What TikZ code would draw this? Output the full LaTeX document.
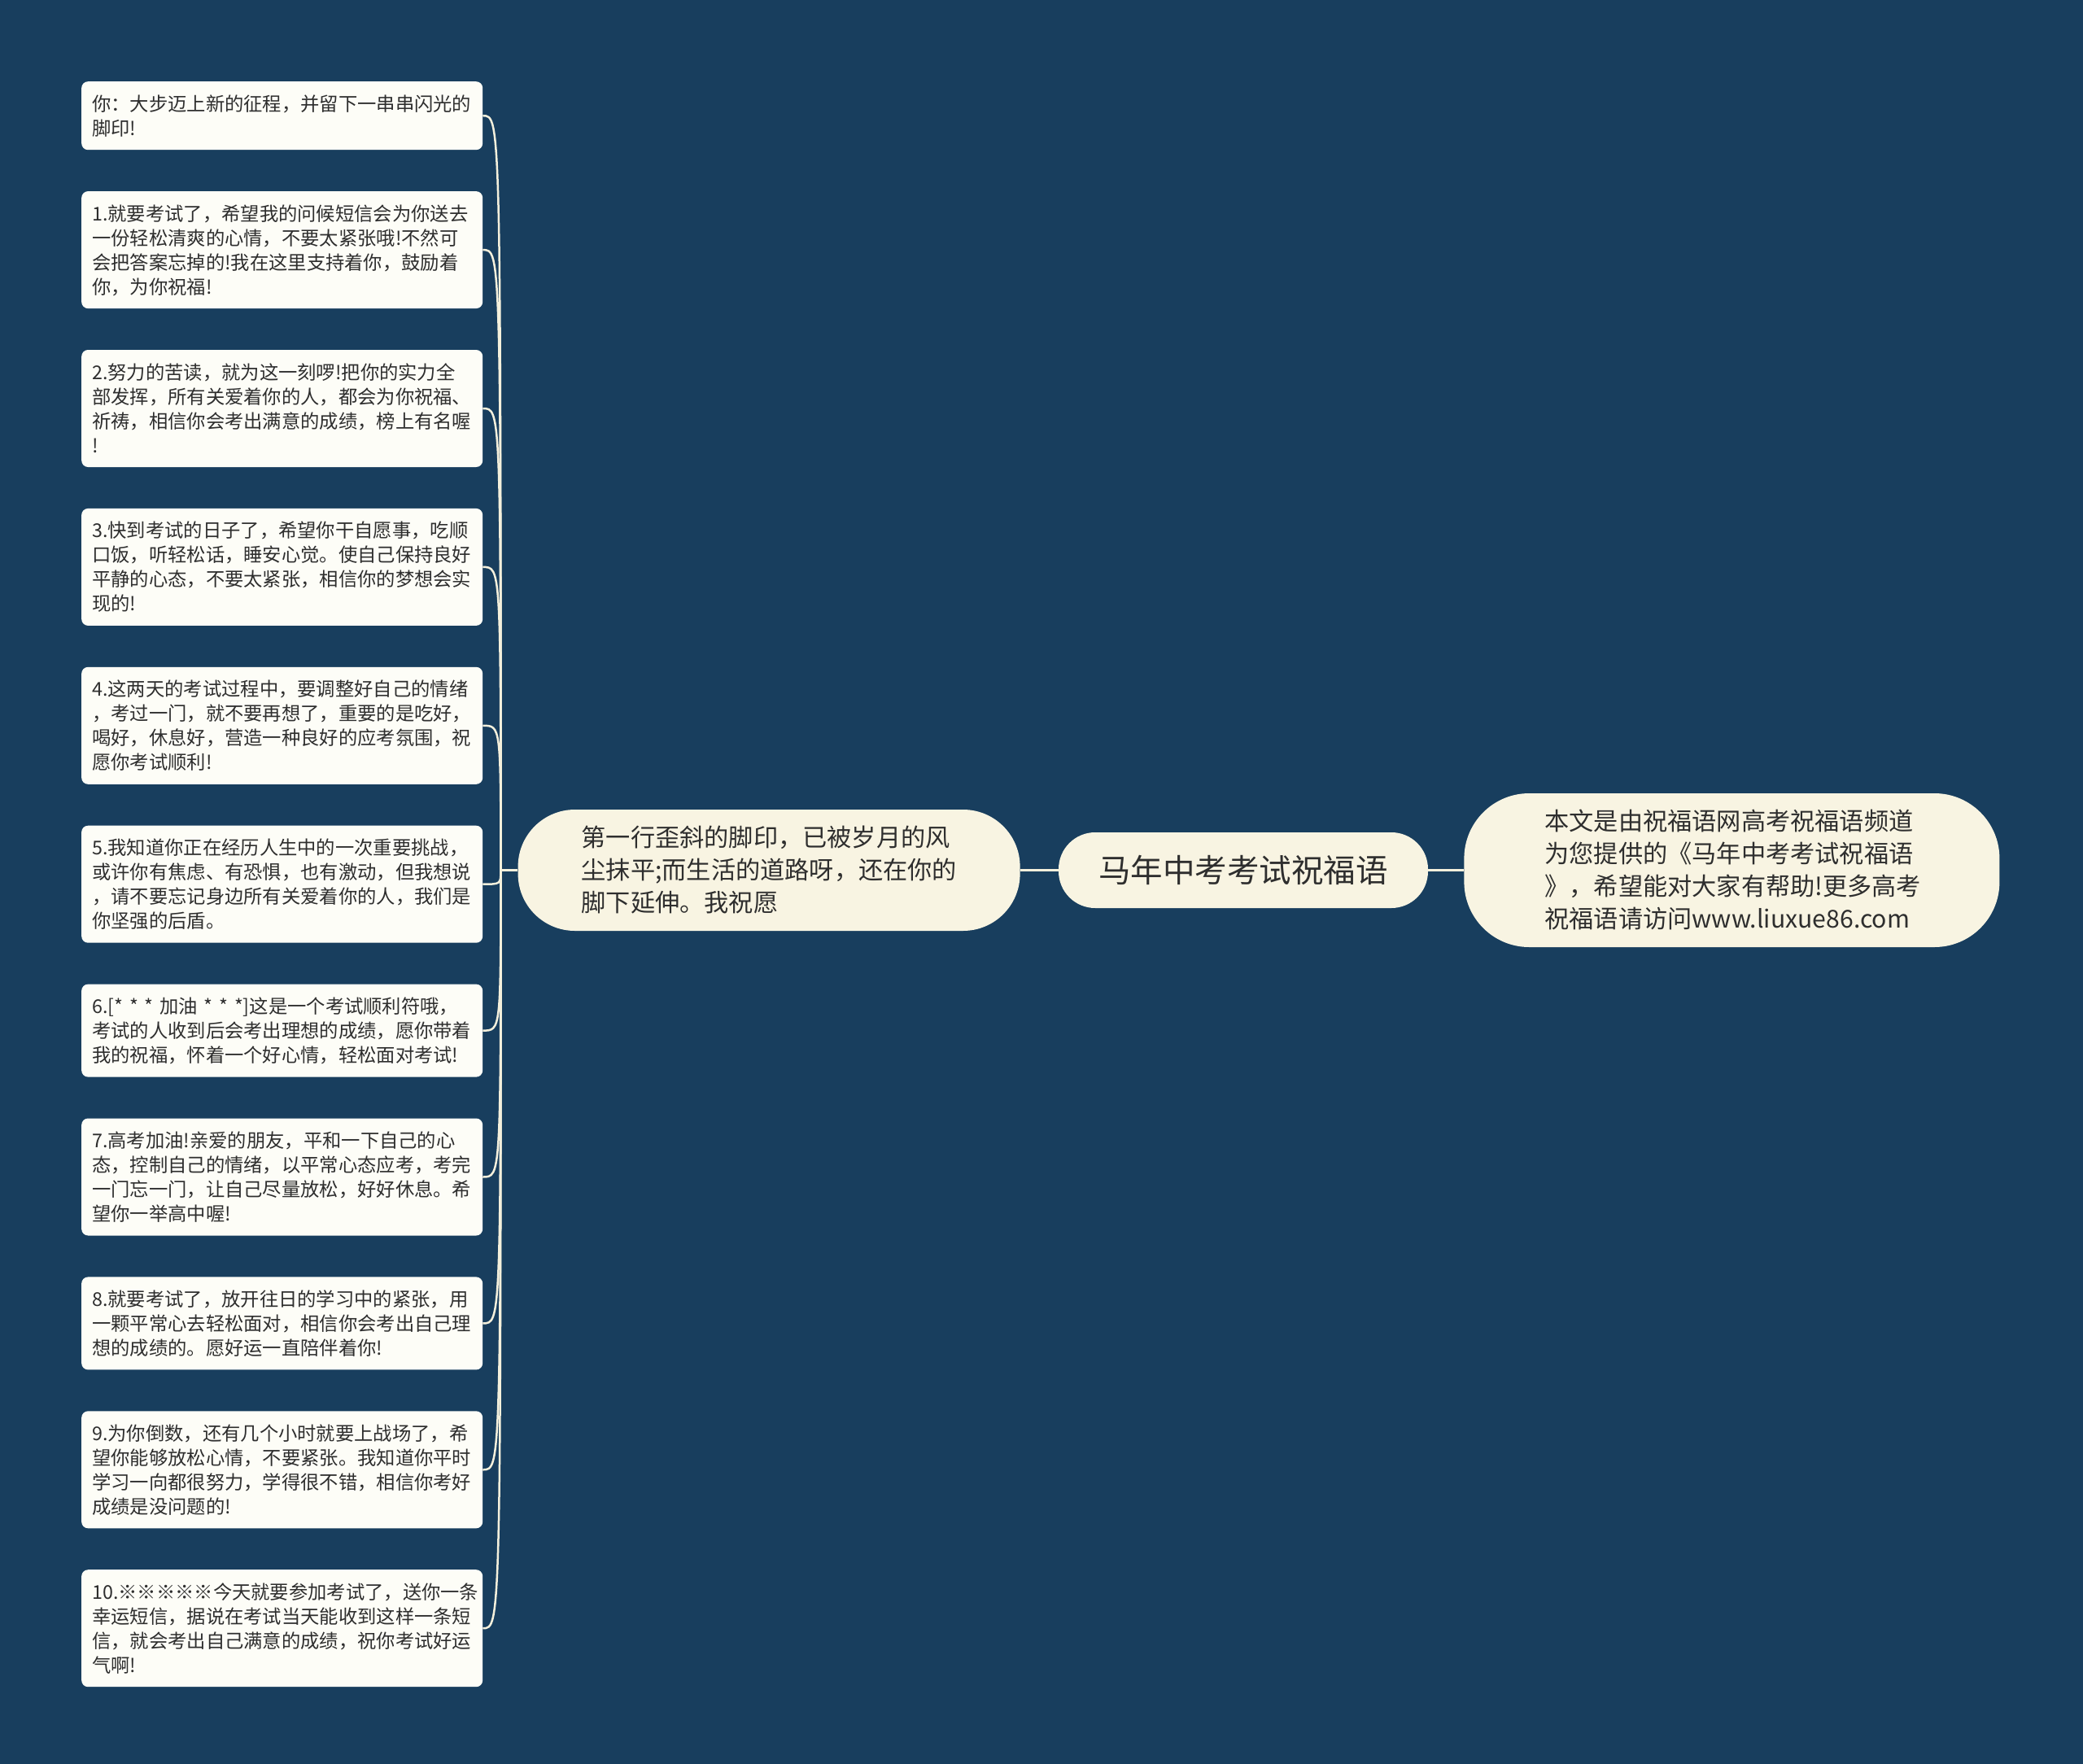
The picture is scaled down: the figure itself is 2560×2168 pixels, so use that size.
\documentclass[tikz,border=0pt]{standalone}
\usepackage{fontspec}
\setmainfont{Noto Sans CJK SC}
\usetikzlibrary{positioning}

\definecolor{mapbg}{HTML}{183E5E}
\definecolor{leaffill}{HTML}{FDFDF7}
\definecolor{hubfill}{HTML}{F8F4E2}
\definecolor{linkcol}{HTML}{F4F0DC}
\definecolor{inkcol}{HTML}{2E2E2E}

\begin{document}
\begin{tikzpicture}[
  x=1pt, y=-1pt,
  leafbox/.style = {fill=leaffill, rounded corners=8pt, text width=467pt, inner xsep=13pt, inner ysep=12pt,
    align=left, text=inkcol, font=\fontsize{23.3}{30}\selectfont,
    execute at begin node={\rule{0pt}{24pt}}, execute at end node={\rule[-6pt]{0pt}{6pt}}},
  topic/.style = {fill=hubfill, text=inkcol, align=left, inner ysep=14.5pt, font=\fontsize{30.2}{40}\selectfont,
    execute at begin node={\rule{0pt}{31pt}}, execute at end node={\rule[-9pt]{0pt}{9pt}}},
  central/.style = {fill=hubfill, text=inkcol, rounded corners=45pt, minimum width=454pt, minimum height=93pt,
    inner sep=0pt, font=\fontsize{39.5}{48}\selectfont},
  trunk/.style = {draw=linkcol, line width=3.5pt},
  twig/.style = {draw=linkcol, line width=2.5pt}
]

% Canvas
\fill[mapbg] (0,0) rectangle (2560,2168);
\useasboundingbox (0,0) rectangle (2560,2168);

% Centre and its two neighbours
\node[central] (root) at (1528,1069.5) {马年中考考试祝福语};
\node[topic, text width=461pt, inner xsep=78pt, rounded corners=70pt, left=47pt of root] (branch)
  {第一行歪斜的脚印，已被岁月的风\\尘抹平;而生活的道路呀，还在你的\\脚下延伸。我祝愿};
\node[topic, text width=460pt, inner xsep=99pt, rounded corners=80pt, right=44pt of root] (source)
  {本文是由祝福语网高考祝福语频道\\为您提供的《马年中考考试祝福语\\》，希望能对大家有帮助!更多高考\\祝福语请访问www.liuxue86.com};
\coordinate[left=21pt of branch] (hub);

% Wishes
\node[leafbox, anchor=north west] (leaf0) at (100,100)
  {你：大步迈上新的征程，并留下一串串闪光的\\脚印!};
\node[leafbox, below=50.5pt of leaf0] (leaf1)
  {1.就要考试了，希望我的问候短信会为你送去\\一份轻松清爽的心情，不要太紧张哦!不然可\\会把答案忘掉的!我在这里支持着你，鼓励着\\你，为你祝福!};
\node[leafbox, below=50.5pt of leaf1] (leaf2)
  {2.努力的苦读，就为这一刻啰!把你的实力全\\部发挥，所有关爱着你的人，都会为你祝福、\\祈祷，相信你会考出满意的成绩，榜上有名喔\\!};
\node[leafbox, below=50.5pt of leaf2] (leaf3)
  {3.快到考试的日子了，希望你干自愿事，吃顺\\口饭，听轻松话，睡安心觉。使自己保持良好\\平静的心态，不要太紧张，相信你的梦想会实\\现的!};
\node[leafbox, below=50.5pt of leaf3] (leaf4)
  {4.这两天的考试过程中，要调整好自己的情绪\\，考过一门，就不要再想了，重要的是吃好，\\喝好，休息好，营造一种良好的应考氛围，祝\\愿你考试顺利!};
\node[leafbox, below=50.5pt of leaf4] (leaf5)
  {5.我知道你正在经历人生中的一次重要挑战，\\或许你有焦虑、有恐惧，也有激动，但我想说\\，请不要忘记身边所有关爱着你的人，我们是\\你坚强的后盾。};
\node[leafbox, below=50.5pt of leaf5] (leaf6)
  {6.[* * * 加油 * * *]这是一个考试顺利符哦，\\考试的人收到后会考出理想的成绩，愿你带着\\我的祝福，怀着一个好心情，轻松面对考试!};
\node[leafbox, below=50.5pt of leaf6] (leaf7)
  {7.高考加油!亲爱的朋友，平和一下自己的心\\态，控制自己的情绪，以平常心态应考，考完\\一门忘一门，让自己尽量放松，好好休息。希\\望你一举高中喔!};
\node[leafbox, below=50.5pt of leaf7] (leaf8)
  {8.就要考试了，放开往日的学习中的紧张，用\\一颗平常心去轻松面对，相信你会考出自己理\\想的成绩的。愿好运一直陪伴着你!};
\node[leafbox, below=50.5pt of leaf8] (leaf9)
  {9.为你倒数，还有几个小时就要上战场了，希\\望你能够放松心情，不要紧张。我知道你平时\\学习一向都很努力，学得很不错，相信你考好\\成绩是没问题的!};
\node[leafbox, below=50.5pt of leaf9] (leaf10)
  {10.※※※※※今天就要参加考试了，送你一条\\幸运短信，据说在考试当天能收到这样一条短\\信，就会考出自己满意的成绩，祝你考试好运\\气啊!};

% Connections
\draw[trunk] (root) -- (branch);
\draw[trunk] (root) -- (source);
\draw[trunk] (branch) -- (hub);
\foreach \i in {0,...,10} {
  \draw[twig] (hub) .. controls (hub |- leaf\i.east) .. (leaf\i.east);
}

\end{tikzpicture}
\end{document}
